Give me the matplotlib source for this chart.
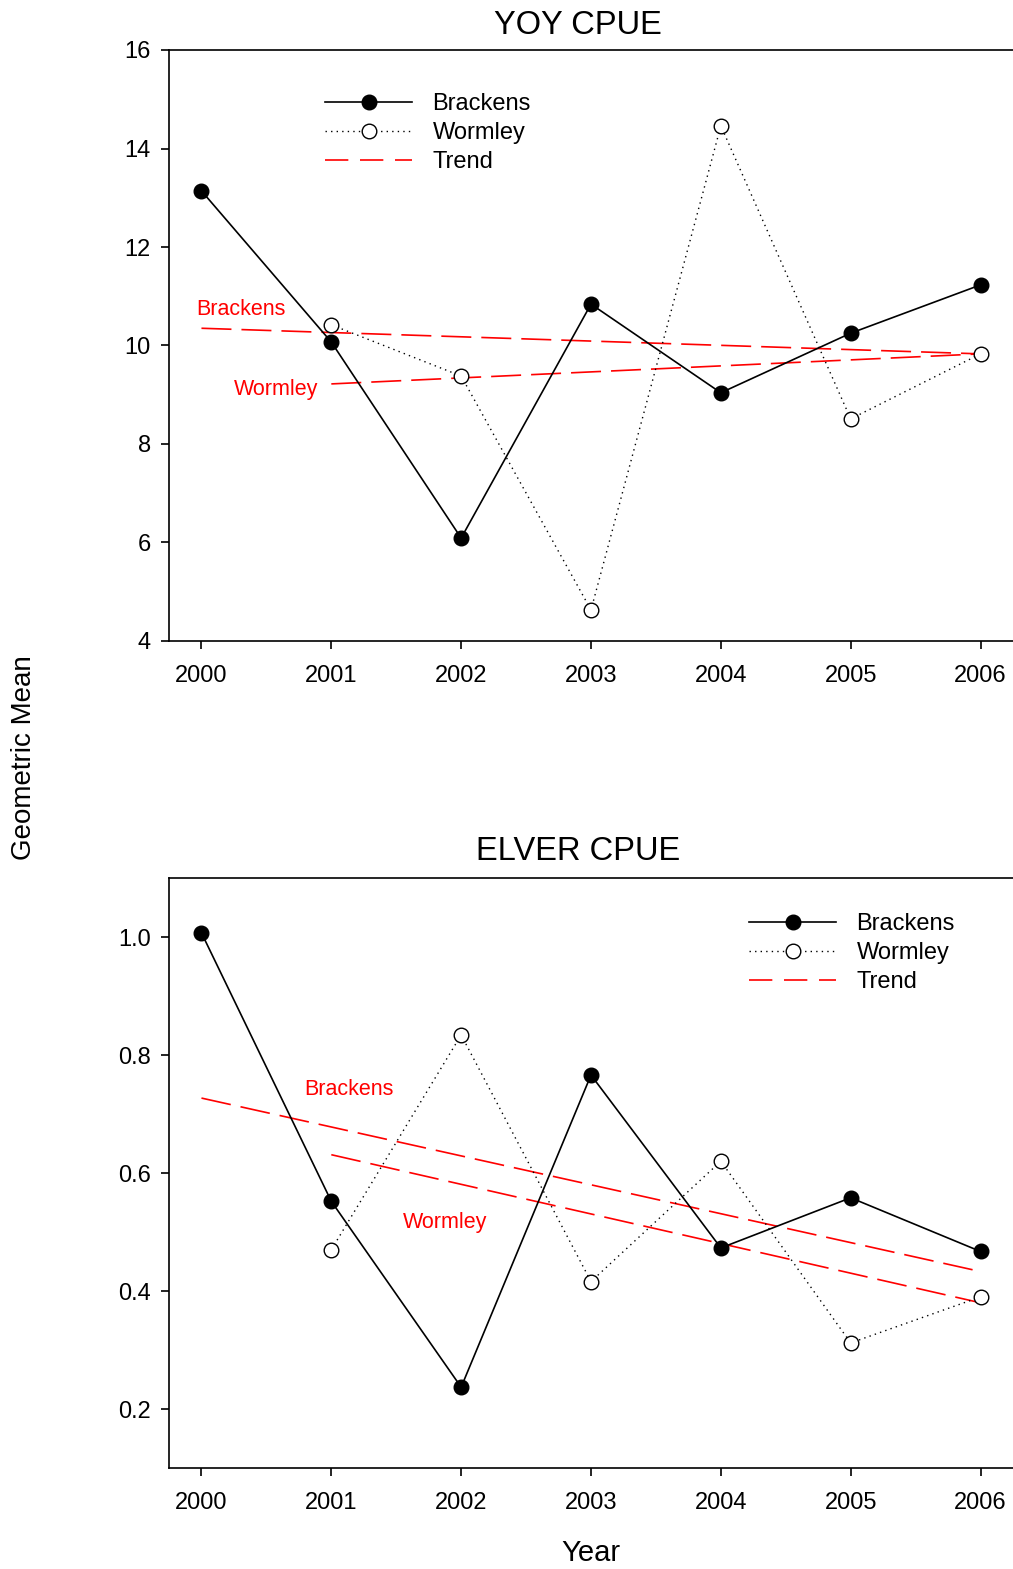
import matplotlib
matplotlib.use("Agg")
import matplotlib.pyplot as plt
from matplotlib.lines import Line2D

plt.rcParams['font.family'] = ['Liberation Sans', 'DejaVu Sans']

years = [2000, 2001, 2002, 2003, 2004, 2005, 2006]
years_w = [2001, 2002, 2003, 2004, 2005, 2006]

# YOY CPUE (geometric mean)
yoy_brackens = [13.14, 10.07, 6.09, 10.84, 9.04, 10.25, 11.23]
yoy_wormley = [10.42, 9.38, 4.63, 14.46, 8.51, 9.83]
yoy_trend_b = [10.35, 9.83]   # 2000 -> 2006
yoy_trend_w = [9.22, 9.83]    # 2001 -> 2006

# ELVER CPUE (geometric mean)
elv_brackens = [1.007, 0.552, 0.237, 0.766, 0.473, 0.558, 0.467]
elv_wormley = [0.470, 0.834, 0.416, 0.620, 0.312, 0.390]
elv_trend_b = [0.727, 0.433]
elv_trend_w = [0.631, 0.380]

W, H = 1013, 1569
fig = plt.figure(figsize=(W / 100, H / 100), dpi=100)

left = 169 / W
width = 1 - left
ax1 = fig.add_axes([left, 1 - 641 / H, width, (641 - 50) / H])
ax2 = fig.add_axes([left, 1 - 1468 / H, width, (1468 - 878) / H])

dash_red = (18, 6)
msize = 10.5


def draw(ax, b, w, tb, tw):
    ax.plot([years[0], years[-1]], tb, color='red', lw=1.2, dashes=dash_red, zorder=1)
    ax.plot([years_w[0], years_w[-1]], tw, color='red', lw=1.2, dashes=dash_red, zorder=1)
    ax.plot(years_w, w, color='black', lw=1.0, dashes=(1, 3), marker='o',
            markersize=msize, markerfacecolor='white', markeredgecolor='black',
            markeredgewidth=1.0, zorder=3)
    ax.plot(years, b, color='black', lw=1.2, marker='o', markersize=msize,
            markerfacecolor='black', markeredgecolor='black', zorder=4)
    ax.set_xlim(1999.75, 2006.25)
    ax.set_xticks(years)
    ax.spines['right'].set_visible(False)
    for s in ['left', 'bottom', 'top']:
        ax.spines[s].set_linewidth(1.2)
    ax.tick_params(direction='out', length=6, width=1.2, labelsize=17, pad=7)
    ax.tick_params(axis='x', pad=11)


draw(ax1, yoy_brackens, yoy_wormley, yoy_trend_b, yoy_trend_w)
ax1.set_ylim(4, 16)
ax1.set_yticks([4, 6, 8, 10, 12, 14, 16])
ax1.text(1999.96, 10.74, 'Brackens', color='red', fontsize=15.5, va='center', ha='left')
ax1.text(2000.25, 9.10, 'Wormley', color='red', fontsize=15.5, va='center', ha='left')

draw(ax2, elv_brackens, elv_wormley, elv_trend_b, elv_trend_w)
ax2.set_ylim(0.1, 1.1)
ax2.set_yticks([0.2, 0.4, 0.6, 0.8, 1.0])
ax2.set_yticklabels(['0.2', '0.4', '0.6', '0.8', '1.0'])
ax2.text(2000.79, 0.742, 'Brackens', color='red', fontsize=15.5, va='center', ha='left')
ax2.text(2001.55, 0.516, 'Wormley', color='red', fontsize=15.5, va='center', ha='left')

handles = [
    Line2D([], [], color='black', lw=1.2, marker='o', markersize=msize,
           markerfacecolor='black'),
    Line2D([], [], color='black', lw=1.0, dashes=(1, 3), marker='o', markersize=msize,
           markerfacecolor='white', markeredgecolor='black'),
    Line2D([], [], color='red', lw=1.2, dashes=(14, 7)),
]
labels = ['Brackens', 'Wormley', 'Trend']

for ax, (lx, ty) in [(ax1, (325, 93)), (ax2, (749, 913))]:
    ax.legend(handles, labels, loc='upper left', bbox_to_anchor=(lx / W, 1 - ty / H),
              bbox_transform=fig.transFigure, frameon=False, fontsize=17,
              handlelength=3.7, handletextpad=0.85, labelspacing=0.3,
              borderpad=0, borderaxespad=0)

fig.text(578 / W, 1 - 25 / H, 'YOY CPUE', fontsize=23.5, ha='center', va='center')
fig.text(578 / W, 1 - 852 / H, 'ELVER CPUE', fontsize=23.5, ha='center', va='center')
fig.text(24 / W, 1 - 758 / H, 'Geometric Mean', fontsize=20, rotation=90,
         ha='center', va='center')
fig.text(591 / W, 1 - 1553 / H, 'Year', fontsize=21, ha='center', va='center')

fig.savefig('out.png', dpi=100)
